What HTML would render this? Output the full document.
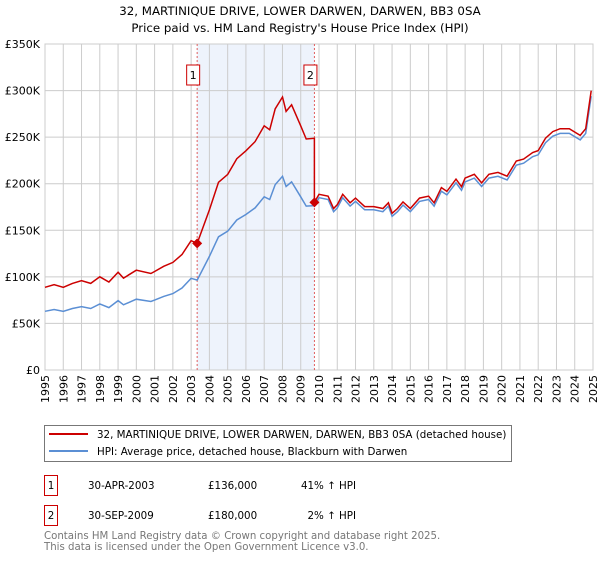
<!DOCTYPE html>
<html><head><meta charset="utf-8"><style>
body{margin:0;background:#fff;font-family:"DejaVu Sans","Liberation Sans",sans-serif;}
svg text{font-family:"DejaVu Sans","Liberation Sans",sans-serif;}
</style></head><body>
<svg id="c" width="600" height="560" xmlns="http://www.w3.org/2000/svg">
<text x="300" y="15" text-anchor="middle" font-size="11.8">32, MARTINIQUE DRIVE, LOWER DARWEN, DARWEN, BB3 0SA</text>
<text x="300" y="32" text-anchor="middle" font-size="11.8">Price paid vs. HM Land Registry's House Price Index (HPI)</text>
<g id="plot"></g>
<g>
<rect x="44.5" y="425.5" width="467" height="36" fill="#fff" stroke="#777"/>
<line x1="49" y1="434" x2="88" y2="434" stroke="#cc0000" stroke-width="2"/>
<text x="97" y="438" font-size="10.3">32, MARTINIQUE DRIVE, LOWER DARWEN, DARWEN, BB3 0SA (detached house)</text>
<line x1="49" y1="451" x2="88" y2="451" stroke="#5b8fd4" stroke-width="2"/>
<text x="97" y="455" font-size="10.3">HPI: Average price, detached house, Blackburn with Darwen</text>
</g>
<g font-size="10.3">
<rect x="44.5" y="475.5" width="13" height="20" fill="none" stroke="#cc0000"/>
<text x="51" y="489" text-anchor="middle">1</text>
<text x="88" y="489">30-APR-2003</text>
<text x="208" y="489">£136,000</text>
<text x="356" y="489" text-anchor="end">41% ↑ HPI</text>
<rect x="44.5" y="505.5" width="13" height="20" fill="none" stroke="#cc0000"/>
<text x="51" y="519" text-anchor="middle">2</text>
<text x="88" y="519">30-SEP-2009</text>
<text x="208" y="519">£180,000</text>
<text x="356" y="519" text-anchor="end">2% ↑ HPI</text>
</g>
<text x="44" y="539" font-size="10.2" fill="#777">Contains HM Land Registry data © Crown copyright and database right 2025.</text>
<text x="44" y="550" font-size="10.2" fill="#777">This data is licensed under the Open Government Licence v3.0.</text>
</svg>
<script>
const hpiYears=[1995,1995.5,1996,1996.5,1997,1997.5,1998,1998.5,1999,1999.3,2000,2000.8,2001,2001.5,2002,2002.5,2003,2003.33,2004,2004.5,2005,2005.5,2006,2006.5,2007,2007.3,2007.6,2008,2008.2,2008.5,2009,2009.3,2009.75,2010,2010.5,2010.8,2011,2011.3,2011.7,2012,2012.5,2013,2013.5,2013.8,2014,2014.3,2014.6,2015,2015.5,2016,2016.3,2016.7,2017,2017.5,2017.8,2018,2018.5,2018.9,2019.3,2019.8,2020.3,2020.8,2021.2,2021.7,2022,2022.4,2022.8,2023.2,2023.7,2024.3,2024.6,2024.9];
const hpiValues=[63,65,63,66,68,66,71,67,74.5,70,76,73.5,75,79,82,88,98.5,96.5,122,143,149,161,167,174,186,183,199,208,197,202,186,176,176.5,185,183,170,174,185,176,181,172,172,170,176,165,170,177,170,181,183,176,192,188,201,193,202,206,197,206,208,204,220,222,229,231,244,251,254,254,247,254,294];
const saleYears=[2003.33,2009.75];
const salePrices=[136,180];
const yTicks=[0,50,100,150,200,250,300,350];
const xTicks=[1995,1996,1997,1998,1999,2000,2001,2002,2003,2004,2005,2006,2007,2008,2009,2010,2011,2012,2013,2014,2015,2016,2017,2018,2019,2020,2021,2022,2023,2024,2025];
const NS="http://www.w3.org/2000/svg";
const X0=45,X1=593,Y0=370,Y1=44;
const xs=y=>X0+(y-1995)/30*(X1-X0);
const ys=v=>Y0-v/350*(Y0-Y1);
const g=document.getElementById('plot');
function mk(t,a){const e=document.createElementNS(NS,t);for(const k in a)e.setAttribute(k,a[k]);g.appendChild(e);return e;}
let sh=mk('rect',{x:xs(saleYears[0]),y:Y1,width:xs(saleYears[1])-xs(saleYears[0]),height:Y0-Y1,fill:'#eef3fc'});


xTicks.forEach(t=>{const x=xs(t);
 let l=mk('line',{x1:x,x2:x,y1:Y1,y2:Y0,stroke:'#ccc'});
 
 
 let tx=mk('text',{x:0,y:0,'font-size':11,'text-anchor':'end',transform:`translate(${x+4},${Y0+5}) rotate(-90)`});
 tx.textContent=t;
 
 
});
yTicks.forEach(t=>{const y=ys(t);
 let l=mk('line',{x1:X0,x2:X1,y1:y,y2:y,stroke:'#ccc'});
 
 
 let tx=mk('text',{x:40,y:y+4,'font-size':11,'text-anchor':'end'});
 tx.textContent=t===0?'£0':'£'+t+'K';
 
 
});
let fr=mk('rect',{x:X0,y:Y1,width:X1-X0,height:Y0-Y1,fill:'none',stroke:'#ccc'});


saleYears.forEach((s,i)=>{const x=xs(s);
 let l=mk('line',{x1:x,x2:x,y1:Y1,y2:Y0,stroke:'#e06060','stroke-dasharray':'2,2'});
 
 
 let b=mk('rect',{x:x-10.5,y:65,width:13,height:20,fill:'#fff',stroke:'#cc0000'});
 
 
 let t=mk('text',{x:x-4,y:79,'font-size':11,'text-anchor':'middle'});
 t.textContent=String(i+1);
 
 
});
function hpiAt(y){for(let i=0;i<hpiYears.length-1;i++){if(y<=hpiYears[i+1]){const f=(y-hpiYears[i])/(hpiYears[i+1]-hpiYears[i]);return hpiValues[i]+f*(hpiValues[i+1]-hpiValues[i]);}}return hpiValues[hpiValues.length-1];}
const ratios=saleYears.map((s,i)=>salePrices[i]/hpiAt(s));
let bp=hpiYears.map((y,i)=>`${xs(y).toFixed(1)},${ys(hpiValues[i]).toFixed(1)}`).join(' ');
let bl=mk('polyline',{points:bp,fill:'none',stroke:'#5b8fd4','stroke-width':1.5});


let rp=[];
hpiYears.forEach((y,i)=>{
 if(y>saleYears[1]&&(i===0||hpiYears[i-1]<=saleYears[1])){rp.push([saleYears[1],hpiAt(saleYears[1])*ratios[0]]);rp.push([saleYears[1],salePrices[1]]);}
 const r=y<=saleYears[1]?ratios[0]:ratios[1];rp.push([y,hpiValues[i]*r]);});
let rl=mk('polyline',{points:rp.map(p=>`${xs(p[0]).toFixed(1)},${ys(p[1]).toFixed(1)}`).join(' '),fill:'none',stroke:'#cc0000','stroke-width':1.5});


saleYears.forEach((s,i)=>{const x=xs(s),y=ys(salePrices[i]);
 let d=mk('polygon',{points:`${x},${y-5} ${x+5},${y} ${x},${y+5} ${x-5},${y}`,fill:'#cc0000'});
 
 
});
</script>
</body></html>
